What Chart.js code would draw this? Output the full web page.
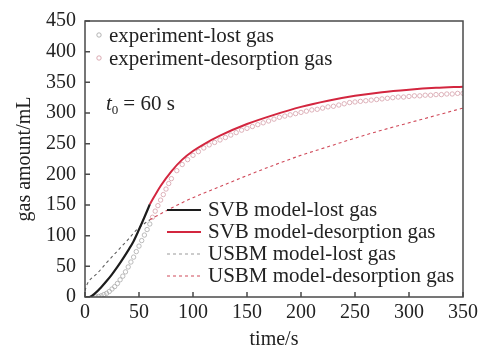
<!DOCTYPE html>
<html>
<head>
<meta charset="utf-8">
<script src="https://cdn.jsdelivr.net/npm/chart.js@4.4.1/dist/chart.umd.min.js"></script>
<style>
  html, body { margin: 0; padding: 0; background: #fff; }
  #wrap { width: 484px; height: 356px; }
</style>
</head>
<body>
<div id="wrap"><canvas id="c" width="484" height="356"></canvas></div>
<script>
// --- data ---
const xTicks = [0, 50, 100, 150, 200, 250, 300, 350];
const yTicks = [0, 50, 100, 150, 200, 250, 300, 350, 400, 450];

// experiment points
const expLostT = [10, 12.5, 15, 17.5, 20, 22.5, 25, 27.5, 30, 32.5, 35, 37.5, 40, 42.5, 45, 47.5, 50, 52.5, 55, 57.5, 60];
const expLostV = [0, 1, 2, 4, 6, 9, 13, 17, 22, 28, 34, 41, 49, 57, 65, 74, 83, 92, 101, 110, 119];
const expDesT = [62.5, 65, 67.5, 70, 72.5, 75, 77.5, 80, 85, 90, 95, 100, 105, 110, 115, 120, 125, 130, 135, 140, 145,
  150, 155, 160, 165, 170, 175, 180, 185, 190, 195, 200, 205, 210, 215, 220, 225, 230, 235, 240, 245,
  250, 255, 260, 265, 270, 275, 280, 285, 290, 295, 300, 305, 310, 315, 320, 325, 330, 335, 340, 345, 350];
const expDesV = [130, 140, 149, 158, 167, 176, 185, 193, 206, 216, 224, 231, 237, 243, 248, 252, 256, 260, 264, 268, 272,
  275, 278, 281, 284, 287, 290, 293, 295, 297, 299, 301, 303, 305, 306, 308, 310, 311, 313, 315, 317,
  318, 319, 320, 321, 322, 323, 324, 325, 326, 326, 327, 328, 328, 329, 329, 330, 330, 331, 331, 332, 332];

// SVB model
const svbLostT = [0, 4, 10, 15, 20, 25, 30, 35, 40, 45, 50, 55, 60];
const svbLostV = [0, 0, 7, 16, 26, 37, 49, 62, 76, 91, 110, 130, 151];
const svbDesT = [60, 70, 80, 90, 100, 110, 125, 150, 175, 200, 225, 250, 275, 300, 325, 350];
const svbDesV = [151, 181, 205, 224, 238, 249, 263, 282, 297, 310, 320, 328, 334, 338, 341, 343];

// USBM model
const usbmLostT = [0, 1, 2, 4, 7, 11, 20, 30, 40, 48, 60];
const usbmLostV = [10, 16, 21, 27, 32, 38, 56, 75, 94, 110, 126];
const usbmDesT = [60, 80, 100, 125, 150, 175, 200, 225, 250, 275, 300, 325, 350];
const usbmDesV = [126, 145, 162, 180, 198, 215, 231, 245, 259, 272, 284, 296, 308];

const FONT = "'Liberation Serif', 'Times New Roman', serif";
const pts = (t, v) => t.map((x, i) => ({ x: x, y: v[i] }));

const decor = {
  id: 'decor',
  afterDraw(chart) {
    const { ctx, chartArea: a, scales } = chart;
    ctx.save();
    // frame
    ctx.strokeStyle = '#4a4a4a';
    ctx.lineWidth = 1.5;
    ctx.strokeRect(a.left, a.top, a.right - a.left, a.bottom - a.top);
    // inward ticks
    ctx.beginPath();
    xTicks.forEach(v => {
      const x = scales.x.getPixelForValue(v);
      ctx.moveTo(x, a.bottom); ctx.lineTo(x, a.bottom - 5);
    });
    yTicks.forEach(v => {
      const y = scales.y.getPixelForValue(v);
      ctx.moveTo(a.left, y); ctx.lineTo(a.left + 5, y);
    });
    ctx.stroke();

    // top-left legend (markers)
    ctx.font = '21px ' + FONT;
    ctx.fillStyle = '#222';
    ctx.textBaseline = 'alphabetic';
    ctx.textAlign = 'left';
    const ds = chart.data.datasets;
    [[0, 42], [1, 65]].forEach(([i, by]) => {
      ctx.beginPath();
      ctx.strokeStyle = ds[i].borderColor;
      ctx.lineWidth = 0.9;
      ctx.arc(99, by - 7, 2.2, 0, Math.PI * 2);
      ctx.stroke();
      ctx.fillText(ds[i].label, 109, by);
    });

    // bottom-right legend (lines)
    [[2, 216], [3, 238], [4, 260], [5, 282]].forEach(([i, by]) => {
      ctx.beginPath();
      ctx.strokeStyle = i === 4 ? '#9a9a9a' : ds[i].borderColor;
      ctx.lineWidth = ds[i].borderWidth;
      ctx.setLineDash(ds[i].borderDash || []);
      ctx.moveTo(167, by - 6); ctx.lineTo(201, by - 6);
      ctx.stroke();
      ctx.setLineDash([]);
      ctx.fillText(ds[i].label, 208, by);
    });

    // t0 annotation
    ctx.font = 'italic 21px ' + FONT;
    ctx.fillText('t', 106, 110);
    let x = 106 + ctx.measureText('t').width;
    ctx.font = '13px ' + FONT;
    ctx.fillText('0', x, 114);
    x += ctx.measureText('0').width + 5;
    ctx.font = '21px ' + FONT;
    ctx.fillText('= 60 s', x, 110);
    ctx.restore();
  }
};

new Chart(document.getElementById('c'), {
  type: 'scatter',
  data: {
    datasets: [
      { label: 'experiment-lost gas', data: pts(expLostT, expLostV), borderColor: '#ababab', backgroundColor: 'rgba(255,255,255,0)', pointRadius: 2.2, borderWidth: 0.8, showLine: false, order: 5 },
      { label: 'experiment-desorption gas', data: pts(expDesT, expDesV), borderColor: '#d6a0a9', backgroundColor: 'rgba(255,255,255,0)', pointRadius: 2.2, borderWidth: 0.8, showLine: false, order: 5 },
      { label: 'SVB model-lost gas', data: pts(svbLostT, svbLostV), borderColor: '#1c1c1c', borderWidth: 2.2, showLine: true, pointRadius: 0, cubicInterpolationMode: 'monotone', order: 1 },
      { label: 'SVB model-desorption gas', data: pts(svbDesT, svbDesV), borderColor: '#d3263f', borderWidth: 2, showLine: true, pointRadius: 0, cubicInterpolationMode: 'monotone', order: 1 },
      { label: 'USBM model-lost gas', data: pts(usbmLostT, usbmLostV), borderColor: '#5e5e5e', borderWidth: 1.1, borderDash: [3, 3], showLine: true, pointRadius: 0, cubicInterpolationMode: 'monotone', order: 2 },
      { label: 'USBM model-desorption gas', data: pts(usbmDesT, usbmDesV), borderColor: '#d04a5a', borderWidth: 1.1, borderDash: [3, 3], showLine: true, pointRadius: 0, cubicInterpolationMode: 'monotone', order: 2 }
    ]
  },
  options: {
    responsive: false,
    animation: false,
    events: [],
    layout: { padding: { left: 0, right: 21, top: 19, bottom: 0 } },
    plugins: { legend: { display: false }, tooltip: { enabled: false } },
    scales: {
      x: {
        type: 'linear', min: 0, max: 350,
        afterBuildTicks: s => { s.ticks = xTicks.map(v => ({ value: v })); },
        afterFit: s => { s.height = 59; },
        grid: { display: false, drawTicks: false },
        border: { display: false },
        ticks: { color: '#222', font: { family: FONT, size: 20 }, padding: 4, maxRotation: 0 },
        title: { display: true, text: 'time/s', color: '#222', font: { family: FONT, size: 20 }, padding: { top: 4, bottom: 4 } }
      },
      y: {
        type: 'linear', min: 0, max: 450,
        afterBuildTicks: s => { s.ticks = yTicks.map(v => ({ value: v })); },
        afterFit: s => { s.width = 85; },
        grid: { display: false, drawTicks: false },
        border: { display: false },
        ticks: { color: '#222', font: { family: FONT, size: 20 }, padding: 9 },
        title: { display: true, text: 'gas amount/mL', color: '#222', font: { family: FONT, size: 20 }, padding: { top: 13, bottom: 0 } }
      }
    }
  },
  plugins: [decor]
});
</script>
</body>
</html>
